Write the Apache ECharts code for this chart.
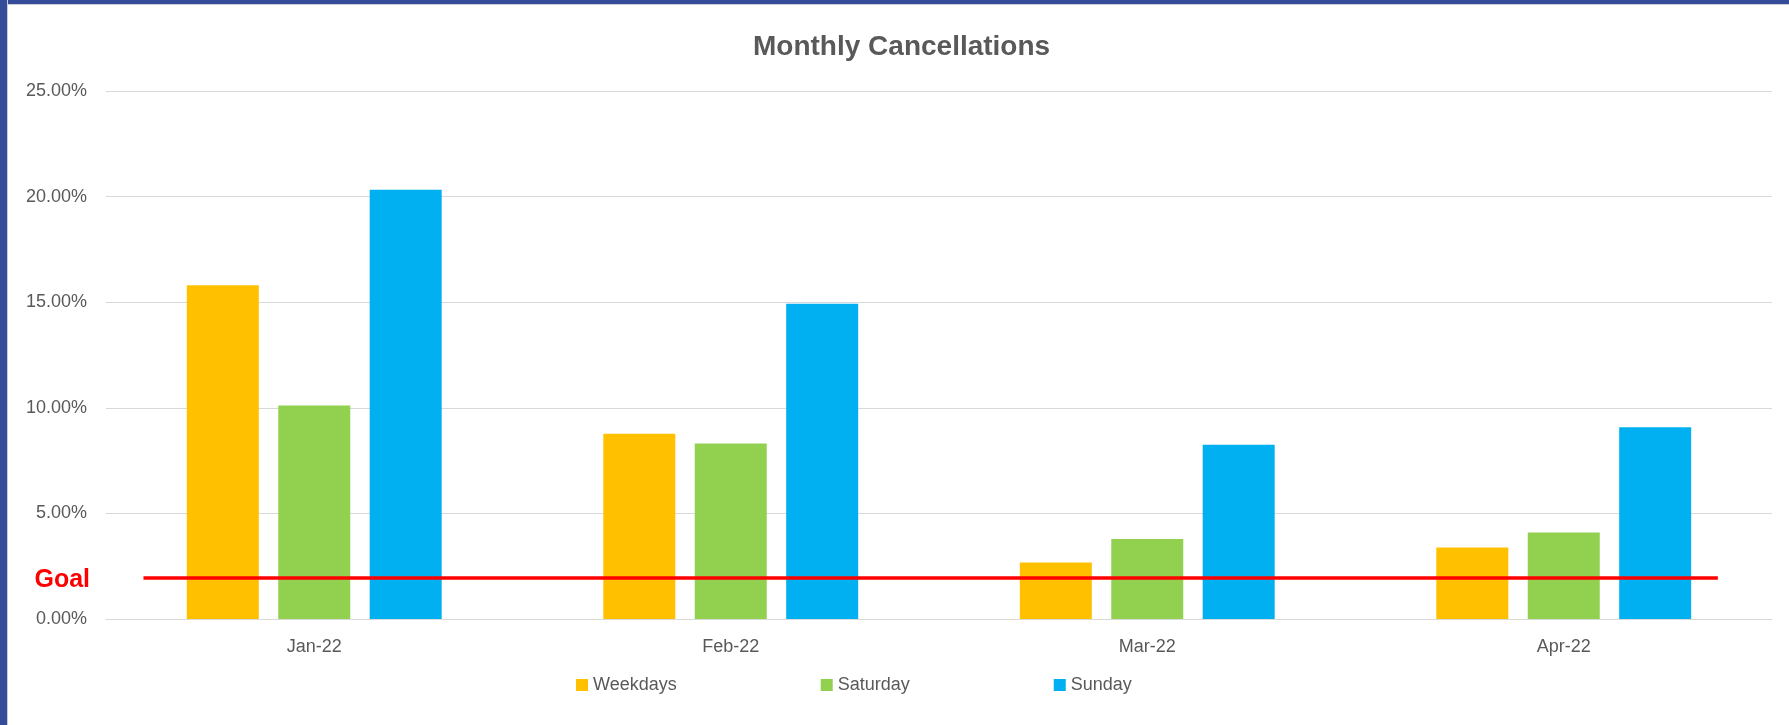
<!DOCTYPE html>
<html>
<head>
    <meta http-equiv="Content-Type" content="text/html; charset=utf-8"/>
    <style type="text/css">
        body, html {
            width: 100%;
            height: 100%;
            margin: 0;
            background: #fff;
        }
        #chart {
            position: absolute;
            left: 0;
            top: 0;
            width: 1789px;
            height: 725px;
        }
        #frameTop {
            position: absolute;
            left: 0;
            top: 0;
            width: 1789px;
            height: 4px;
            background: #344c9a;
            border-bottom: 1px solid #c9ccd8;
        }
        #frameLeft {
            position: absolute;
            left: 0;
            top: 0;
            width: 7px;
            height: 725px;
            background: #344c9a;
            border-right: 1px solid #c9ccd8;
        }
    </style>
    <script src="https://cdn.jsdelivr.net/npm/echarts@6/dist/echarts.min.js"></script>
    <title>Monthly Cancellations</title>
</head>
<body>
<div id="chart"></div>
<div id="frameTop"></div>
<div id="frameLeft"></div>
<script type="text/javascript">
    // data (percent)
    var months = ['Jan-22', 'Feb-22', 'Mar-22', 'Apr-22'];
    var weekdays = [15.80, 8.77, 2.67, 3.38];
    var saturday = [10.11, 8.31, 3.79, 4.09];
    var sunday = [20.33, 14.93, 8.25, 9.08];
    // goal line: start / end on a 0..4 scale across the plot
    var goalX = [0.09, 3.87];
    var goalY = [1.94, 1.94];

    var font = 'Liberation Sans';
    var grey = '#595959';

    var myChart = echarts.init(document.getElementById('chart'));

    var goalData = [];
    for (var i = 0; i < goalX.length; i++) {
        goalData.push([goalX[i], goalY[i]]);
    }

    var option = {
        animation: false,
        textStyle: {fontFamily: font},
        title: {
            text: 'Monthly Cancellations',
            left: 753,
            top: 33,
            padding: 0,
            textStyle: {fontFamily: font, fontSize: 28, fontWeight: 'bold', color: grey}
        },
        legend: {
            data: ['Weekdays', 'Saturday', 'Sunday'],
            left: 576,
            top: 676,
            padding: 0,
            icon: 'rect',
            itemWidth: 12,
            itemHeight: 12,
            itemGap: 144,
            textStyle: {fontFamily: font, fontSize: 18, color: grey}
        },
        grid: {left: 106, right: 17, top: 91, bottom: 106},
        xAxis: [
            {
                type: 'category',
                data: months,
                axisLine: {lineStyle: {color: '#d9d9d9', width: 1}},
                axisTick: {show: false},
                axisLabel: {fontFamily: font, fontSize: 18, color: grey, margin: 19}
            },
            {
                type: 'value',
                min: 0,
                max: 4,
                show: false
            }
        ],
        yAxis: {
            type: 'value',
            min: 0,
            max: 25,
            interval: 5,
            axisLine: {show: false},
            axisTick: {show: false},
            splitLine: {lineStyle: {color: '#d9d9d9', width: 1}},
            axisLabel: {
                fontFamily: font, fontSize: 18, color: grey, margin: 19,
                formatter: function (v) {
                    return v.toFixed(2) + '%';
                }
            }
        },
        series: [
            {
                name: 'Weekdays',
                type: 'bar',
                data: weekdays,
                barWidth: 72,
                barGap: '27%',
                itemStyle: {color: '#ffc000'}
            },
            {
                name: 'Saturday',
                type: 'bar',
                data: saturday,
                barWidth: 72,
                barGap: '27%',
                itemStyle: {color: '#92d050'}
            },
            {
                name: 'Sunday',
                type: 'bar',
                data: sunday,
                barWidth: 72,
                barGap: '27%',
                itemStyle: {color: '#00b0f0'}
            },
            {
                name: 'Goal',
                type: 'line',
                xAxisIndex: 1,
                data: goalData,
                showSymbol: false,
                lineStyle: {color: '#ff0000', width: 3.5},
                z: 5
            }
        ],
        graphic: [
            {
                type: 'text',
                right: 1789 - 90,
                top: 568,
                style: {
                    text: 'Goal',
                    fill: '#ff0000',
                    font: 'bold 25px "Liberation Sans"'
                }
            }
        ]
    };
    myChart.setOption(option);
</script>
</body>
</html>
